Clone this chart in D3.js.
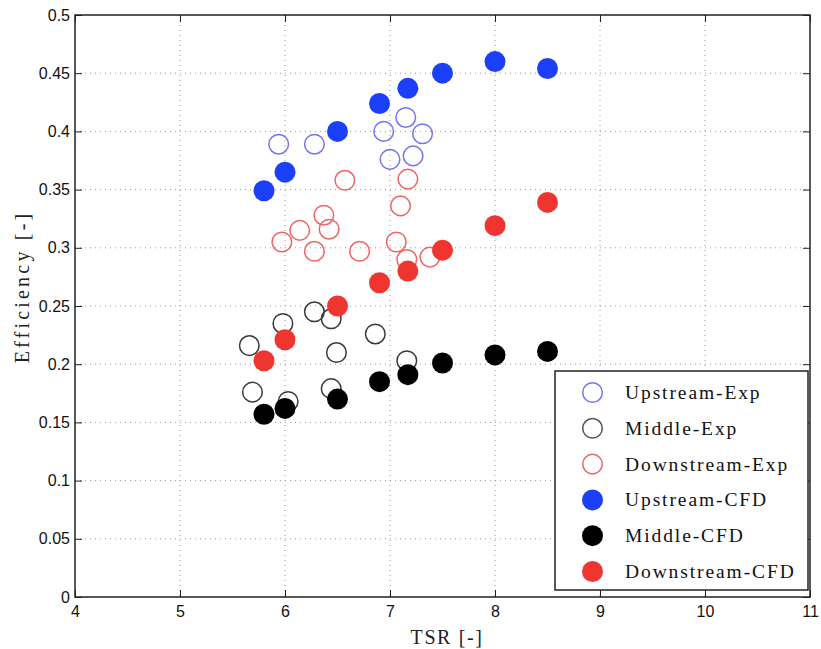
<!DOCTYPE html>
<html><head><meta charset="utf-8">
<script src="https://cdn.jsdelivr.net/npm/d3@7"></script>
<style>body{margin:0;background:#fff}svg{display:block}</style>
</head><body>
<svg id="c" width="821" height="649"></svg>
<script>
const xTicks = [4,5,6,7,8,9,10,11];
const yTicks = [0,0.05,0.1,0.15,0.2,0.25,0.3,0.35,0.4,0.45,0.5];
const yTickLabels = ["0","0.05","0.1","0.15","0.2","0.25","0.3","0.35","0.4","0.45","0.5"];

const upExpTSR = [5.94,6.28,6.94,7.15,7.31,7.0,7.22];
const upExpEff = [0.389,0.389,0.400,0.412,0.398,0.376,0.379];
const midExpTSR = [5.66,5.98,6.28,6.44,6.49,6.86,7.16,5.69,6.03,6.44];
const midExpEff = [0.216,0.235,0.245,0.239,0.210,0.226,0.203,0.176,0.168,0.179];
const downExpTSR = [6.57,7.17,7.10,5.97,6.14,6.37,6.42,6.28,6.71,7.06,7.16,7.38];
const downExpEff = [0.358,0.359,0.336,0.305,0.315,0.328,0.316,0.297,0.297,0.305,0.290,0.292];
const cfdTSR = [5.8,6.0,6.5,6.9,7.17,7.5,8.0,8.5];
const upCfdEff = [0.349,0.365,0.400,0.424,0.437,0.450,0.460,0.454];
const midCfdEff = [0.157,0.162,0.170,0.185,0.191,0.201,0.208,0.211];
const downCfdEff = [0.203,0.221,0.250,0.270,0.280,0.298,0.319,0.339];

const seriesNames = ["Upstream-Exp","Middle-Exp","Downstream-Exp","Upstream-CFD","Middle-CFD","Downstream-CFD"];
const series = [
  {name:seriesNames[0], x:upExpTSR, y:upExpEff, color:"#7474f2", filled:false},
  {name:seriesNames[1], x:midExpTSR, y:midExpEff, color:"#3a3a3a", filled:false},
  {name:seriesNames[2], x:downExpTSR, y:downExpEff, color:"#ef6464", filled:false},
  {name:seriesNames[3], x:cfdTSR, y:upCfdEff, color:"#1c3ffa", filled:true},
  {name:seriesNames[4], x:cfdTSR, y:midCfdEff, color:"#000000", filled:true},
  {name:seriesNames[5], x:cfdTSR, y:downCfdEff, color:"#ee3530", filled:true}
];

const svg = d3.select("#c");
const L=75, R=810, T=15, B=597;
const x = d3.scaleLinear().domain([4,11]).range([L,R]);
const y = d3.scaleLinear().domain([0,0.5]).range([B,T]);

// grid
const g = svg.append("g");
g.selectAll(".gx").data(xTicks.slice(1,-1)).enter().append("line")
  .attr("x1",d=>x(d)).attr("x2",d=>x(d)).attr("y1",T).attr("y2",B)
  .attr("stroke","#999").attr("stroke-width",1).attr("stroke-dasharray","1,4");
g.selectAll(".gy").data(yTicks.slice(1,-1)).enter().append("line")
  .attr("y1",d=>y(d)).attr("y2",d=>y(d)).attr("x1",L).attr("x2",R)
  .attr("stroke","#999").attr("stroke-width",1).attr("stroke-dasharray","1,4");

// axes
const tickFont = "Liberation Sans, Arial, sans-serif";
const xAxis = d3.axisBottom(x).tickValues(xTicks).tickFormat(d3.format("d")).tickSizeInner(-7).tickSizeOuter(0).tickPadding(9);
const yAxis = d3.axisLeft(y).tickValues(yTicks).tickFormat((d,i)=>yTickLabels[i]).tickSizeInner(-7).tickSizeOuter(0).tickPadding(5);
const xa = svg.append("g").attr("transform",`translate(0,${B})`).call(xAxis);
const ya = svg.append("g").attr("transform",`translate(${L},0)`).call(yAxis);
const xt = svg.append("g").attr("transform",`translate(0,${T})`).call(d3.axisTop(x).tickValues(xTicks).tickFormat("").tickSizeInner(-7).tickSizeOuter(0));
const yr = svg.append("g").attr("transform",`translate(${R},0)`).call(d3.axisRight(y).tickValues(yTicks).tickFormat("").tickSizeInner(-7).tickSizeOuter(0));
[xa,ya,xt,yr].forEach(a=>{
  a.select(".domain").remove();
  a.selectAll(".tick line").attr("stroke","#222").attr("stroke-width",1);
  a.selectAll("text").attr("font-family",tickFont).attr("font-size",16).attr("fill","#111");
});
svg.append("rect").attr("x",L).attr("y",T).attr("width",R-L).attr("height",B-T)
  .attr("fill","none").attr("stroke","#222").attr("stroke-width",1.5);

// data
series.forEach(s=>{
  svg.append("g").selectAll("circle").data(s.x.map((v,i)=>[v,s.y[i]])).enter().append("circle")
    .attr("cx",d=>x(d[0])).attr("cy",d=>y(d[1])).attr("r",s.filled?10.5:9.8)
    .attr("fill",s.filled?s.color:"none")
    .attr("stroke",s.color).attr("stroke-width",s.filled?0:1.5);
});

// labels
const serif = "Liberation Serif, DejaVu Serif, serif";
svg.append("text").attr("x",447).attr("y",644).attr("text-anchor","middle")
  .attr("font-family",serif).attr("font-size",20).attr("letter-spacing",1.6).attr("fill","#222").text("TSR [-]");
svg.append("text").attr("transform","translate(29,287) rotate(-90)").attr("text-anchor","middle")
  .attr("font-family",serif).attr("font-size",20).attr("letter-spacing",3.2).attr("fill","#222").text("Efficiency [-]");

// legend
const lg = svg.append("g");
lg.append("rect").attr("x",555).attr("y",371).attr("width",253).attr("height",219)
  .attr("fill","#fff").attr("stroke","#222").attr("stroke-width",1.5);
series.forEach((s,i)=>{
  const cy = 392.5 + i*35.8;
  lg.append("circle").attr("cx",592.5).attr("cy",cy).attr("r",s.filled?10.5:9.8)
    .attr("fill",s.filled?s.color:"none").attr("stroke",s.filled?s.color:(i==1?"#555":s.color)).attr("stroke-width",s.filled?0:1.5);
  lg.append("text").attr("x",625).attr("y",cy+6.5).attr("font-family",serif).attr("font-size",19.5)
    .attr("letter-spacing",1.9).attr("fill","#111").text(s.name);
});
</script>
</body></html>
